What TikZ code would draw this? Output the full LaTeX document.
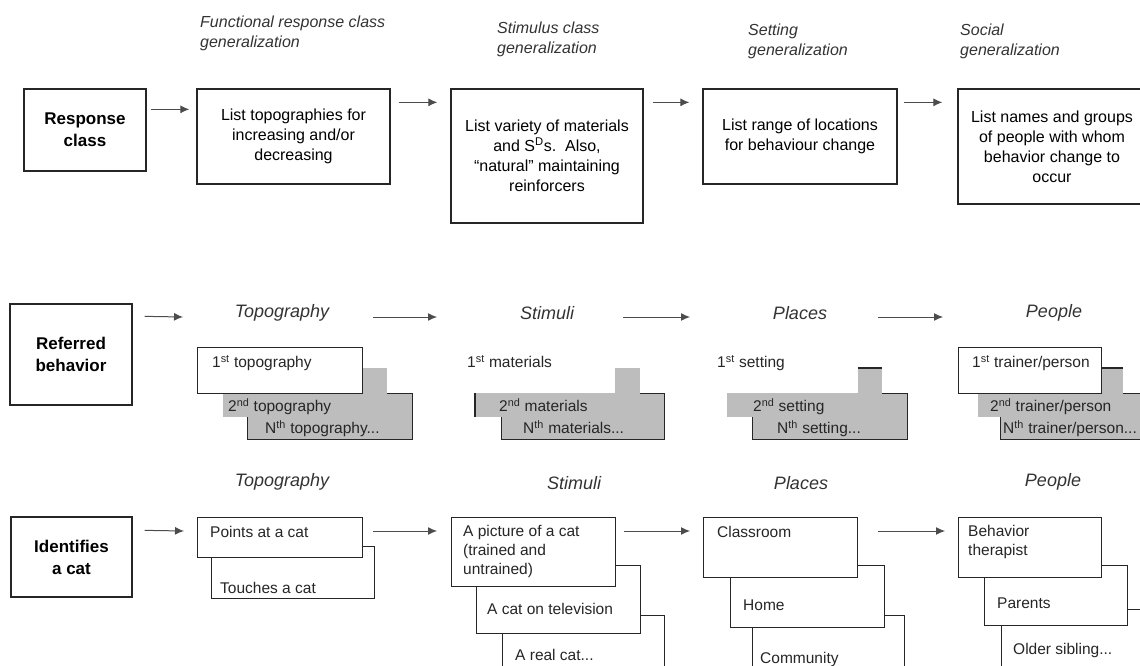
\documentclass[tikz,border=0pt]{standalone}
\usepackage{fontspec}
\setmainfont{Liberation Sans}
\usetikzlibrary{calc, arrows.meta}

\begin{document}
\begin{tikzpicture}[
    x=1pt, y=-1pt,
    head/.style={draw=black!85, line width=1.3pt, align=center, inner sep=0pt,
      font=\fontsize{17}{22}\selectfont\bfseries},
    plan/.style={draw=black!85, line width=1.3pt, align=center, inner sep=0pt,
      font=\fontsize{16}{20}\selectfont},
    gen/.style={anchor=north west, inner sep=0pt, align=left, text=black!80,
      font=\fontsize{16}{20}\selectfont\itshape},
    topic/.style={inner sep=0pt, text=black!80, font=\fontsize{18}{22}\selectfont\itshape},
    sz/.style 2 args={minimum width=#1, minimum height=#2},
    card/.style={anchor=north west, inner sep=0pt, fill=white, draw=black!85, line width=1.3pt},
    blank/.style={anchor=north west, inner sep=0pt, fill=white},
    grey/.style={anchor=north west, inner sep=0pt, fill=black!26},
    greyrim/.style={grey, draw=black!85, line width=1.3pt},
    rim/.style={draw=black!85, line width=1.3pt},
    txt/.style={anchor=north west, inner sep=0pt, align=left, text=black!85,
      font=\fontsize{15.5}{19}\selectfont},
    arr/.style={-{Latex[length=9pt, width=8pt]}, line width=1pt, black!70}]
  \useasboundingbox (0,0) rectangle (1140,666);
  \clip (0,0) rectangle (1140,666);

  % first row: the four kinds of generalization
  \node[head, sz={122}{82}] (rc) at (85,130) {Response\\class};
  \node[plan, sz={193}{95}] (fr) at (293.5,136.5) {List topographies for\\increasing and/or\\decreasing};
  \node[plan, sz={192}{134}] (st) at (547,156)
    {List variety of materials\\and S\textsuperscript{D}s.\ \ Also,\\``natural'' maintaining\\reinforcers};
  \node[plan, sz={194}{95}] (se) at (800,136.5) {List range of locations\\for behaviour change};
  \node[plan, sz={188}{115}] (so) at (1052,146.5)
    {List names and groups\\of people with whom\\behavior change to\\occur};
  \node[gen] (gfr) at (200,16) {Functional response class\\generalization};
  \node[gen] (gst) at (497,22) {Stimulus class\\generalization};
  \node[gen] (gse) at (748,24) {Setting\\generalization};
  \node[gen] (gso) at (960,24) {Social\\generalization};
  \draw[arr] ($(rc.north east)+(4,21)$) -- ($(fr.north west)+(-7,21)$);
  \draw[arr] ($(fr.north east)+(8,14)$) -- ($(st.north west)+(-13,14)$);
  \draw[arr] ($(st.north east)+(9,14)$) -- ($(se.north west)+(-13,14)$);
  \draw[arr] ($(se.north east)+(6,14)$) -- ($(so.north west)+(-15,14)$);

  % second row: referred behavior
  \node[head, sz={122}{101}] (rb) at (71,354.5) {Referred\\behavior};
  \node[topic] (tp2) at (282,313) {Topography};
  \node[topic] (sp2) at (547,313) {Stimuli};
  \node[topic] (pp2) at (800,313) {Places};
  \node[topic] (qp2) at (1054,313) {People};

  \node[greyrim, sz={165}{46}] (t3) at (247,393) {};
  \node[grey, sz={164}{49}] (t2) at (223,368) {};
  \node[card, sz={165}{46}] (t1) at (197,347) {};
  \node[txt] (t1t) at ($(t1.north west)+(15,8)$) {1\textsuperscript{st} topography};
  \node[txt] (t2t) at ($(t2.north west)+(5,30)$) {2\textsuperscript{nd} topography};
  \node[txt] (t3t) at ($(t3.north west)+(18,27)$) {N\textsuperscript{th} topography...};

  \node[greyrim, sz={163}{46}] (s3) at (501,393) {};
  \node[grey, sz={165}{49}] (s2) at (475,368) {};
  \node[blank, sz={164}{46}] (s1) at (451,347) {};
  \draw[rim] (s2.north west |- s1.south) -- (s2.south west);
  \node[txt] (s1t) at ($(s1.north west)+(16,8)$) {1\textsuperscript{st} materials};
  \node[txt] (s2t) at ($(s2.north west)+(24,30)$) {2\textsuperscript{nd} materials};
  \node[txt] (s3t) at ($(s3.north west)+(22,27)$) {N\textsuperscript{th} materials...};

  \node[greyrim, sz={155}{46}] (p3) at (752,393) {};
  \node[grey, sz={155}{49}] (p2) at (727,368) {};
  \node[blank, sz={155}{46}] (p1) at (703,347) {};
  \draw[rim] (p1.north east |- p2.north) -- (p2.north east);
  \node[txt] (p1t) at ($(p1.north west)+(14,8)$) {1\textsuperscript{st} setting};
  \node[txt] (p2t) at ($(p2.north west)+(26,30)$) {2\textsuperscript{nd} setting};
  \node[txt] (p3t) at ($(p3.north west)+(25,27)$) {N\textsuperscript{th} setting...};

  \node[greyrim, sz={170}{46}] (q3) at (1000,393) {};
  \node[grey, sz={145}{49}] (q2) at (978,368) {};
  \node[card, sz={143}{46}] (q1) at (958,347) {};
  \draw[rim] (q1.north east |- q2.north) -- (q2.north east);
  \node[txt] (q1t) at ($(q1.north west)+(14,8)$) {1\textsuperscript{st} trainer/person};
  \node[txt] (q2t) at ($(q2.north west)+(12,30)$) {2\textsuperscript{nd} trainer/person};
  \node[txt] (q3t) at ($(q3.north west)+(3,27)$) {N\textsuperscript{th} trainer/person...};

  \draw[arr] ($(rb.north east)+(12,13)$) -- ($(t1.north west)+(-14,-30)$);
  \draw[arr] ($(t1.north east)+(10,-30)$) -- ($(s1.north west)+(-14,-30)$);
  \draw[arr] ($(s1.north east)+(8,-30)$) -- ($(p1.north west)+(-13,-30)$);
  \draw[arr] ($(p1.north east)+(20,-30)$) -- ($(q1.north west)+(-15,-30)$);

  % third row: identifies a cat
  \node[head, sz={121}{80}] (ic) at (71.5,557) {Identifies\\a cat};
  \node[topic] (tp3) at (282,482) {Topography};
  \node[topic] (sp3) at (574,483) {Stimuli};
  \node[topic] (pp3) at (801,483) {Places};
  \node[topic] (qp3) at (1053,482) {People};

  \node[card, sz={163}{52}] (tk2) at (211,546) {};
  \node[card, sz={165}{40}] (tk1) at (197,517) {};
  \node[txt] (tk1t) at ($(tk1.north west)+(13,9)$) {Points at a cat};
  \node[txt] (tk2t) at ($(tk2.north west)+(9,36)$) {Touches a cat};

  \node[card, sz={162}{100}] (sk3) at (502,615) {};
  \node[card, sz={164}{68}] (sk2) at (476,565) {};
  \node[card, sz={164}{69}] (sk1) at (451,517) {};
  \node[txt] (sk1t) at ($(sk1.north west)+(12,8)$) {A picture of a cat\\(trained and\\untrained)};
  \node[txt] (sk2t) at ($(sk2.north west)+(11,38)$) {A cat on television};
  \node[txt] (sk3t) at ($(sk3.north west)+(13,34)$) {A real cat...};

  \node[card, sz={152}{100}] (pk3) at (752,615) {};
  \node[card, sz={154}{62}] (pk2) at (730,565) {};
  \node[card, sz={154}{60}] (pk1) at (703,517) {};
  \node[txt] (pk1t) at ($(pk1.north west)+(14,9)$) {Classroom};
  \node[txt] (pk2t) at ($(pk2.north west)+(13,35)$) {Home};
  \node[txt] (pk3t) at ($(pk3.north west)+(8,37)$) {Community};

  \node[card, sz={170}{100}] (qk3) at (1001,609) {};
  \node[card, sz={143}{60}] (qk2) at (984,565) {};
  \node[card, sz={143}{60}] (qk1) at (958,517) {};
  \node[txt] (qk1t) at ($(qk1.north west)+(10,8)$) {Behavior\\therapist};
  \node[txt] (qk2t) at ($(qk2.north west)+(13,33)$) {Parents};
  \node[txt] (qk3t) at ($(qk3.north west)+(12,34)$) {Older sibling...};

  \draw[arr] ($(ic.north east)+(12,14)$) -- ($(tk1.north west)+(-13,14)$);
  \draw[arr] ($(tk1.north east)+(10,14)$) -- ($(sk1.north west)+(-14,14)$);
  \draw[arr] ($(sk1.north east)+(8,14)$) -- ($(pk1.north west)+(-13,14)$);
  \draw[arr] ($(pk1.north east)+(20,14)$) -- ($(qk1.north west)+(-13,14)$);
\end{tikzpicture}
\end{document}
